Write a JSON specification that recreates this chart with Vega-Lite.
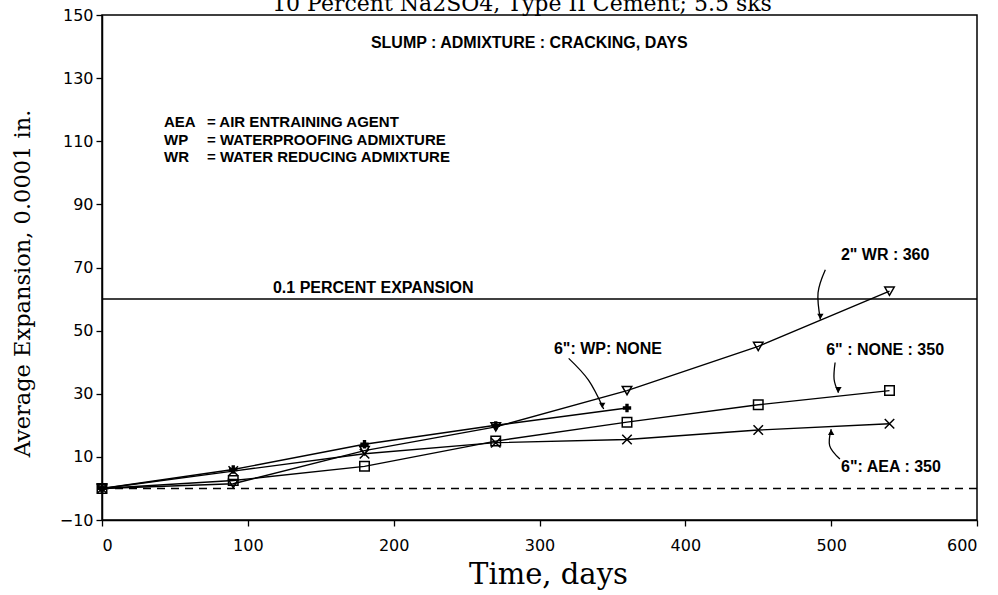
{
  "$schema": "https://vega.github.io/schema/vega-lite/v6.json",
  "width": 875,
  "height": 505,
  "autosize": {"type": "none"},
  "padding": {"left": 102, "top": 15, "right": 21, "bottom": 75},
  "background": "white",
  "config": {
    "view": {"stroke": "black", "strokeWidth": 1.5},
    "axis": {"grid": false, "domainColor": "black", "domainWidth": 1.5, "tickColor": "black", "tickWidth": 1.3, "tickSize": 6, "labelColor": "black", "titleColor": "black"}
  },
  "resolve": {"scale": {"shape": "independent"}},
  "datasets": {
    "series": [
      {"series": "WR", "day": 0, "exp": 0}, {"series": "WR", "day": 90, "exp": 1.5}, {"series": "WR", "day": 180, "exp": 12}, {"series": "WR", "day": 270, "exp": 19.5}, {"series": "WR", "day": 360, "exp": 31}, {"series": "WR", "day": 450, "exp": 45}, {"series": "WR", "day": 540, "exp": 62.5},
      {"series": "WP", "day": 0, "exp": 0}, {"series": "WP", "day": 90, "exp": 6}, {"series": "WP", "day": 180, "exp": 14}, {"series": "WP", "day": 270, "exp": 20}, {"series": "WP", "day": 360, "exp": 25.5},
      {"series": "NONE", "day": 0, "exp": 0}, {"series": "NONE", "day": 90, "exp": 2.5}, {"series": "NONE", "day": 180, "exp": 7}, {"series": "NONE", "day": 270, "exp": 15}, {"series": "NONE", "day": 360, "exp": 21}, {"series": "NONE", "day": 450, "exp": 26.5}, {"series": "NONE", "day": 540, "exp": 31},
      {"series": "AEA", "day": 0, "exp": 0}, {"series": "AEA", "day": 90, "exp": 5.5}, {"series": "AEA", "day": 180, "exp": 11}, {"series": "AEA", "day": 270, "exp": 14.5}, {"series": "AEA", "day": 360, "exp": 15.5}, {"series": "AEA", "day": 450, "exp": 18.5}, {"series": "AEA", "day": 540, "exp": 20.5}
    ],
    "arrows": [
      {"arrow": "WR", "k": 0, "day": 496, "exp": 69.3}, {"arrow": "WR", "k": 1, "day": 491, "exp": 62}, {"arrow": "WR", "k": 2, "day": 492.6, "exp": 53.5},
      {"arrow": "WP", "k": 0, "day": 320, "exp": 41.2}, {"arrow": "WP", "k": 1, "day": 333.6, "exp": 34.3}, {"arrow": "WP", "k": 2, "day": 344, "exp": 25.2},
      {"arrow": "NONE", "k": 0, "day": 502.7, "exp": 39.9}, {"arrow": "NONE", "k": 1, "day": 502, "exp": 34.6}, {"arrow": "NONE", "k": 2, "day": 505, "exp": 30.3},
      {"arrow": "AEA", "k": 0, "day": 506, "exp": 9.3}, {"arrow": "AEA", "k": 1, "day": 499, "exp": 13.5}, {"arrow": "AEA", "k": 2, "day": 500, "exp": 18.8}
    ],
    "heads": [
      {"arrow": "WR", "dir": "down", "day": 492.6, "exp": 54.5},
      {"arrow": "WP", "dir": "down", "day": 343, "exp": 26.3},
      {"arrow": "NONE", "dir": "down", "day": 505, "exp": 31.3},
      {"arrow": "AEA", "dir": "up", "day": 500, "exp": 17.8}
    ],
    "centerNotes": [
      {"note": "SLUMP : ADMIXTURE :  CRACKING, DAYS", "day": 293, "exp": 141},
      {"note": "0.1 PERCENT EXPANSION", "day": 186, "exp": 63.5},
      {"note": "2\" WR : 360", "day": 537, "exp": 74},
      {"note": "6\" : NONE : 350", "day": 537, "exp": 44},
      {"note": "6\":  AEA : 350", "day": 541, "exp": 6.8}
    ],
    "rightNotes": [
      {"note": "6\":  WP: NONE", "day": 384, "exp": 44.1}
    ],
    "abbr": [
      {"note": "AEA", "day": 42.5, "exp": 116},
      {"note": "WP", "day": 42.5, "exp": 110.5},
      {"note": "WR", "day": 42.5, "exp": 105}
    ],
    "defs": [
      {"note": "= AIR ENTRAINING AGENT", "day": 72, "exp": 116},
      {"note": "= WATERPROOFING ADMIXTURE", "day": 72, "exp": 110.5},
      {"note": "= WATER REDUCING ADMIXTURE", "day": 72, "exp": 105}
    ],
    "heading": [
      {"note": "10 Percent Na2SO4, Type II Cement; 5.5 sks", "day": 288, "exp": 151.3}
    ]
  },
  "layer": [
    {
      "data": {"name": "series"},
      "mark": {"type": "line", "color": "black", "strokeWidth": 1.4},
      "encoding": {
        "x": {
          "field": "day", "type": "quantitative",
          "scale": {"domain": [0, 600], "nice": false, "zero": false},
          "axis": {
            "values": [0, 100, 200, 300, 400, 500, 600],
            "labelFont": "DejaVu Sans", "labelFontSize": 16, "labelPadding": 11,
            "title": "Time, days", "titleFont": "DejaVu Serif", "titleFontSize": 29, "titleFontWeight": "normal",
            "titleX": 446, "titleY": 54, "titleBaseline": "middle", "titleAnchor": "middle"
          }
        },
        "y": {
          "field": "exp", "type": "quantitative",
          "scale": {"domain": [-10, 150], "nice": false, "zero": false},
          "axis": {
            "values": [-10, 10, 30, 50, 70, 90, 110, 130, 150],
            "labelFont": "DejaVu Sans", "labelFontSize": 16, "labelPadding": 3,
            "title": "Average Expansion, 0.0001 in.", "titleFont": "DejaVu Serif", "titleFontSize": 22.5, "titleFontWeight": "normal",
            "titleX": -80, "titleY": 268, "titleBaseline": "middle", "titleAngle": -90, "titleAnchor": "middle"
          }
        },
        "detail": {"field": "series"},
        "order": {"field": "day"}
      }
    },
    {
      "data": {"values": [{}]},
      "mark": {"type": "rule", "color": "black", "strokeWidth": 1.4},
      "encoding": {"y": {"datum": 60}}
    },
    {
      "data": {"values": [{}]},
      "mark": {"type": "rule", "color": "black", "strokeWidth": 1.4, "strokeDash": [8, 6]},
      "encoding": {"y": {"datum": 0}}
    },
    {
      "data": {"name": "series"},
      "transform": [{"filter": "datum.series !== 'WP'"}],
      "mark": {"type": "point", "filled": false, "stroke": "black", "strokeWidth": 1.5, "size": 90, "opacity": 1},
      "encoding": {
        "x": {"field": "day", "type": "quantitative"},
        "y": {"field": "exp", "type": "quantitative"},
        "shape": {
          "field": "series", "type": "nominal",
          "scale": {"domain": ["WR", "NONE", "AEA"], "range": ["triangle-down", "square", "M-1,-1L1,1M-1,1L1,-1"]},
          "legend": null
        }
      }
    },
    {
      "data": {"name": "series"},
      "transform": [{"filter": "datum.series === 'WP'"}],
      "mark": {"type": "point", "shape": "cross", "filled": true, "color": "black", "size": 70, "opacity": 1},
      "encoding": {
        "x": {"field": "day", "type": "quantitative"},
        "y": {"field": "exp", "type": "quantitative"}
      }
    },
    {
      "data": {"name": "arrows"},
      "mark": {"type": "line", "color": "black", "strokeWidth": 1.3, "interpolate": "cardinal"},
      "encoding": {
        "x": {"field": "day", "type": "quantitative"},
        "y": {"field": "exp", "type": "quantitative"},
        "detail": {"field": "arrow"},
        "order": {"field": "k"}
      }
    },
    {
      "data": {"name": "heads"},
      "transform": [{"filter": "datum.dir === 'down'"}],
      "mark": {"type": "point", "shape": "triangle-down", "filled": true, "color": "black", "size": 40, "opacity": 1},
      "encoding": {
        "x": {"field": "day", "type": "quantitative"},
        "y": {"field": "exp", "type": "quantitative"}
      }
    },
    {
      "data": {"name": "heads"},
      "transform": [{"filter": "datum.dir === 'up'"}],
      "mark": {"type": "point", "shape": "triangle-up", "filled": true, "color": "black", "size": 40, "opacity": 1},
      "encoding": {
        "x": {"field": "day", "type": "quantitative"},
        "y": {"field": "exp", "type": "quantitative"}
      }
    },
    {
      "data": {"name": "centerNotes"},
      "mark": {"type": "text", "font": "Liberation Sans", "fontWeight": "bold", "fontSize": 16, "color": "black", "align": "center", "baseline": "middle"},
      "encoding": {
        "x": {"field": "day", "type": "quantitative"},
        "y": {"field": "exp", "type": "quantitative"},
        "text": {"field": "note"}
      }
    },
    {
      "data": {"name": "rightNotes"},
      "mark": {"type": "text", "font": "Liberation Sans", "fontWeight": "bold", "fontSize": 16, "color": "black", "align": "right", "baseline": "middle"},
      "encoding": {
        "x": {"field": "day", "type": "quantitative"},
        "y": {"field": "exp", "type": "quantitative"},
        "text": {"field": "note"}
      }
    },
    {
      "data": {"name": "abbr"},
      "mark": {"type": "text", "font": "Liberation Sans", "fontWeight": "bold", "fontSize": 15, "color": "black", "align": "left", "baseline": "middle"},
      "encoding": {
        "x": {"field": "day", "type": "quantitative"},
        "y": {"field": "exp", "type": "quantitative"},
        "text": {"field": "note"}
      }
    },
    {
      "data": {"name": "defs"},
      "mark": {"type": "text", "font": "Liberation Sans", "fontWeight": "bold", "fontSize": 15, "color": "black", "align": "left", "baseline": "middle"},
      "encoding": {
        "x": {"field": "day", "type": "quantitative"},
        "y": {"field": "exp", "type": "quantitative"},
        "text": {"field": "note"}
      }
    },
    {
      "data": {"name": "heading"},
      "mark": {"type": "text", "font": "DejaVu Serif", "fontSize": 22, "color": "black", "align": "center", "baseline": "alphabetic"},
      "encoding": {
        "x": {"field": "day", "type": "quantitative"},
        "y": {"field": "exp", "type": "quantitative"},
        "text": {"field": "note"}
      }
    }
  ]
}
